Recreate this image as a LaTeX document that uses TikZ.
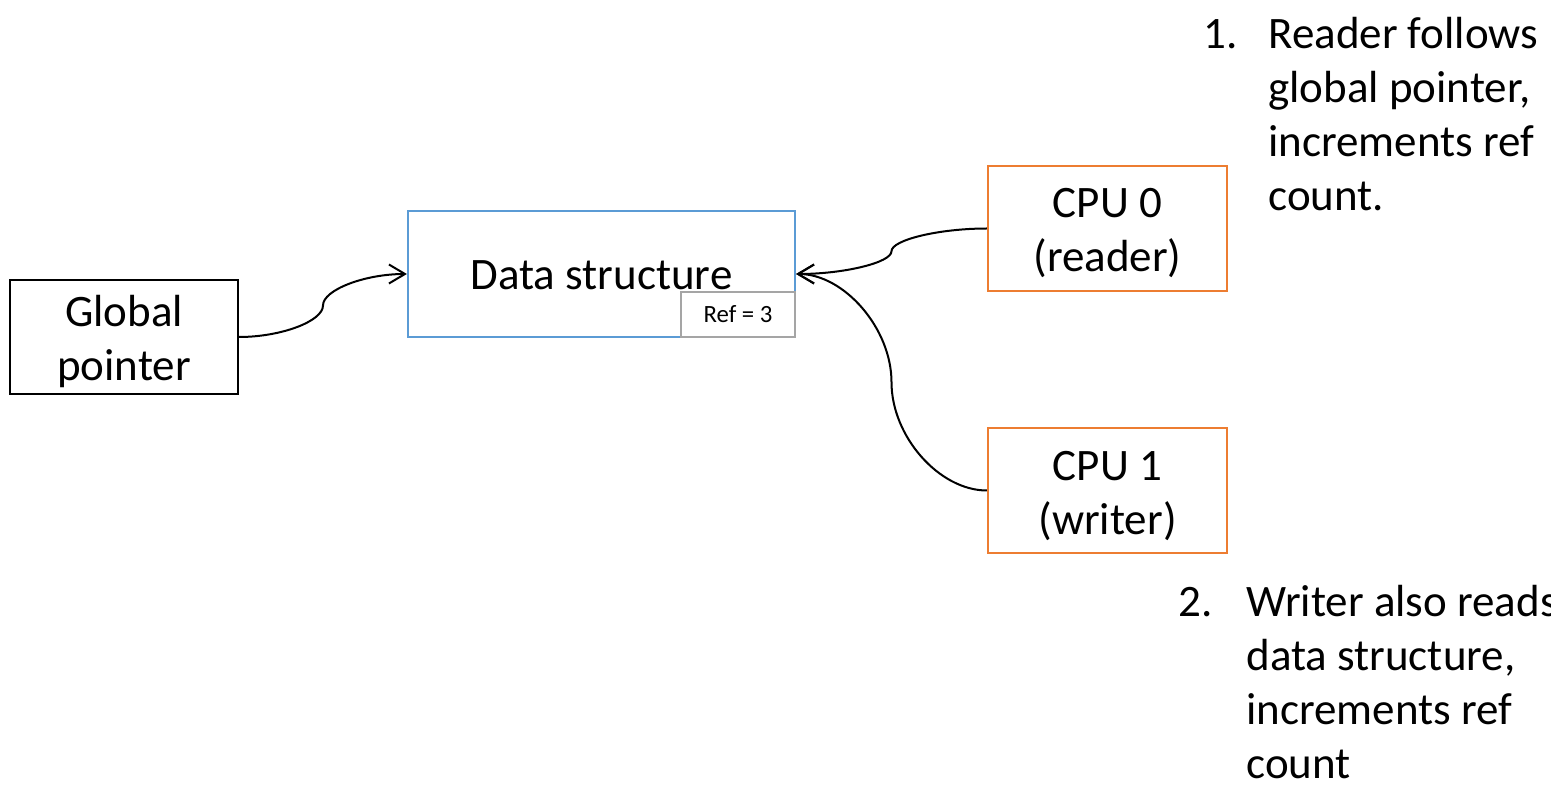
\documentclass[tikz,border=0pt]{standalone}
\usepackage{fontspec}
\setmainfont{Carlito}
\usetikzlibrary{arrows.meta,calc}
\definecolor{dsblue}{HTML}{5B9BD5}
\definecolor{cpuorange}{HTML}{ED7D31}
\definecolor{refgray}{HTML}{A5A5A5}
\newcommand{\tbxtwo}[2]{\raisebox{5.25pt}[0pt][0pt]{\begin{tabular}[t]{@{}c@{}}#1\\#2\end{tabular}}}
\newcommand{\tbxone}[1]{\raisebox{-8pt}[0pt][0pt]{#1}}
\tikzset{
  boxbase/.style={draw, line width=1.1pt, inner sep=0pt,
    font=\fontsize{22.5}{27}\selectfont},
  gpbox/.style={boxbase, draw=black, minimum width=114pt, minimum height=57pt},
  dsbox/.style={boxbase, draw=dsblue, minimum width=193.5pt, minimum height=63pt},
  refbox/.style={draw=refgray, fill=white, line width=1.1pt, inner sep=0pt,
    minimum width=57pt, minimum height=22.5pt, font=\fontsize{12.4}{15}\selectfont},
  cpubox/.style={boxbase, draw=cpuorange, minimum width=119.5pt, minimum height=62.5pt},
  conn/.style={line width=1pt, -{Straight Barb[length=8pt,width=9.5pt,line width=1pt]}},
  note/.style={anchor=base west, inner sep=0pt, font=\fontsize{22.5}{27}\selectfont},
}
\begin{document}
\begin{tikzpicture}[x=0.5pt,y=-0.5pt]
\useasboundingbox (0,0) rectangle (1551,785);

\node[gpbox] (gp) at (124,337) {\tbxtwo{Global}{pointer}};
\node[dsbox] (ds) at (601.5,274) {\tbxone{Data structure}};
\node[refbox] (ref) at (738,314.5) {Ref = 3};
\node[cpubox] (c0) at (1107.5,228.5) {\tbxtwo{CPU 0}{(reader)}};
\node[cpubox] (c1) at (1107.5,490.5) {\tbxtwo{CPU 1}{(writer)}};

% connector: global pointer -> data structure
\coordinate (m1) at ($(gp.east)!0.5!(ds.west)$);
\coordinate (q1) at ($(gp.east)!0.5!(m1)$);
\coordinate (q2) at ($(m1)!0.5!(ds.west)$);
\draw[conn] (gp.east) .. controls (q1 |- gp.east) and (m1 |- q1) .. (m1)
  .. controls (m1 |- q2) and (q2 |- ds.west) .. (ds.west);

% connector: CPU 0 -> data structure
\coordinate (m2) at ($(c0.west)!0.5!(ds.east)$);
\coordinate (r1) at ($(c0.west)!0.5!(m2)$);
\coordinate (r2) at ($(m2)!0.5!(ds.east)$);
\draw[conn] (c0.west) .. controls (r1 |- c0.west) and (m2 |- r1) .. (m2)
  .. controls (m2 |- r2) and (r2 |- ds.east) .. (ds.east);

% connector: CPU 1 -> data structure
\coordinate (m3) at ($(c1.west)!0.5!(ds.east)$);
\coordinate (s1) at ($(c1.west)!0.5!(m3)$);
\coordinate (s2) at ($(m3)!0.5!(ds.east)$);
\draw[conn] (c1.west) .. controls (s1 |- c1.west) and (m3 |- s1) .. (m3)
  .. controls (m3 |- s2) and (s2 |- ds.east) .. (ds.east);

% notes
\node[note] (n1) at (1203,49) {1.};
\node[note] (n1a) at (1268,49) {Reader follows};
\node[note] (n1b) at (1268,103) {global pointer,};
\node[note] (n1c) at (1268,157) {increments ref};
\node[note] (n1d) at (1268,211) {count.};

\node[note] (n2) at (1178,616) {2.};
\node[note] (n2a) at (1246,616) {Writer also reads};
\node[note] (n2b) at (1246,670) {data structure,};
\node[note] (n2c) at (1246,724) {increments ref};
\node[note] (n2d) at (1246,778) {count};
\end{tikzpicture}
\end{document}
